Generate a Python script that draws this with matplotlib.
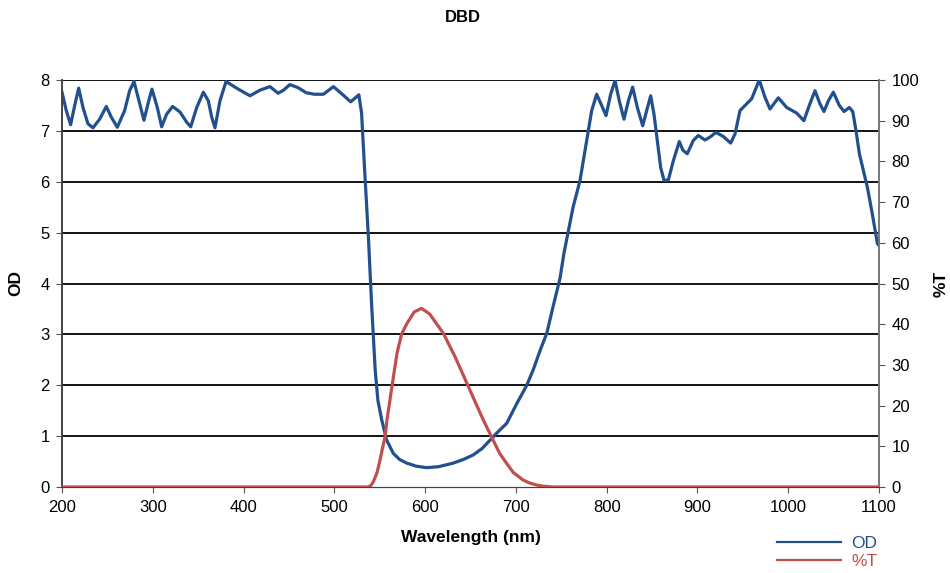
"""DBD filter: optical density and transmission vs wavelength."""
import matplotlib
matplotlib.use("Agg")
import matplotlib.pyplot as plt

plt.rcParams["font.family"] = ["Liberation Sans", "DejaVu Sans"]

# OD curve
od_wl = [200, 204.7, 209.5, 214, 218.4, 223.1, 228.6, 234.1, 241.5, 248.8, 254.3, 260.9,
         269, 274.5, 279.3, 285.6, 290.3, 295.5, 299.1, 305, 309.8, 315.3, 321.9, 330,
         337.4, 341.8, 348.4, 355.7, 361.2, 364.9, 368.5, 374, 380.7, 394.2, 407.1, 418.1,
         429.1, 438, 444, 451, 460, 469, 478, 488, 499, 510, 518, 527, 530, 534, 537.5,
         541, 545, 548, 552.2, 557.7, 565, 572, 579.7, 590, 601.7, 615, 631, 642, 653, 663,
         671.5, 680, 689.8, 701, 712, 719, 727, 734, 741, 748.6, 753, 758, 763, 770.6, 778,
         783.5, 789, 794.5, 799.3, 804.4, 809.2, 813.9, 819.1, 823.9, 828.6, 833.8, 839.7,
         844.1, 848.5, 852.1, 855.8, 859.5, 863.1, 867.9, 873.4, 880, 884, 888.8, 895.4,
         900.9, 908.3, 914, 920.4, 928.5, 936.6, 941.4, 946.9, 954.2, 959.7, 968.1, 974.4,
         979.9, 989.1, 998.3, 1009.3, 1017.3, 1023.2, 1029.5, 1035, 1039.4, 1044.2, 1049.7,
         1056.3, 1061.5, 1067.3, 1071.1, 1074.7, 1078.4, 1082.8, 1087.2, 1092, 1098.3, 1100]
od_val = [7.76, 7.40, 7.12, 7.50, 7.84, 7.46, 7.14, 7.06, 7.23, 7.48, 7.27, 7.07,
          7.40, 7.79, 7.97, 7.53, 7.21, 7.59, 7.82, 7.46, 7.08, 7.33, 7.48, 7.37,
          7.17, 7.08, 7.46, 7.76, 7.59, 7.27, 7.06, 7.59, 7.97, 7.82, 7.69, 7.80,
          7.87, 7.74, 7.8, 7.91, 7.85, 7.75, 7.72, 7.72, 7.87, 7.7, 7.57, 7.71, 7.35, 6.03, 4.92,
          3.61, 2.3, 1.7, 1.32, 0.92, 0.66, 0.54, 0.47, 0.41, 0.38, 0.40, 0.47, 0.54, 0.63, 0.76,
          0.92, 1.08, 1.25, 1.64, 2.0, 2.3, 2.7, 3.02, 3.55, 4.1, 4.6, 5.05, 5.5, 6.02, 6.81,
          7.40, 7.72, 7.5, 7.30, 7.72, 7.99, 7.59, 7.23, 7.59, 7.86, 7.46, 7.10,
          7.40, 7.69, 7.33, 6.81, 6.28, 6.03, 6.03, 6.41, 6.79, 6.62, 6.55, 6.81,
          6.91, 6.82, 6.88, 6.97, 6.89, 6.76, 6.94, 7.40, 7.53, 7.63, 8.0, 7.66,
          7.43, 7.65, 7.46, 7.35, 7.20, 7.5, 7.79, 7.53, 7.38, 7.59, 7.76,
          7.5, 7.38, 7.46, 7.38, 7.00, 6.55, 6.22, 5.89, 5.43, 4.78, 4.75]

# %T curve
t_wl = [200, 537, 540, 543, 547, 550.3, 553, 556, 558, 563, 569, 574, 580, 588, 596,
        605, 620, 633, 646, 656, 664, 675, 682, 689.8, 697, 708, 715, 722.7, 730, 740, 1100]
t_val = [0, 0, 0.3, 1.3, 3.5, 6.6, 9.5, 12.4, 16.5, 24, 32.8, 37.5, 40.2, 43, 43.9,
         42.5, 37.8, 32, 25.5, 20.5, 16.5, 11.5, 8.3, 5.8, 3.6, 1.7, 1.0, 0.5, 0.2, 0, 0]

x_ticks = list(range(200, 1101, 100))
od_ticks = list(range(0, 9))
t_ticks = list(range(0, 101, 10))

BLUE = "#22508f"
RED = "#c0504d"

fig = plt.figure(figsize=(9.5, 5.73), dpi=100)
ax = fig.add_axes([62 / 950, 1 - 487 / 573, (879 - 62) / 950, (487 - 80) / 573])

for v in od_ticks[1:]:
    ax.axhline(v, color="black", lw=1.3, zorder=1)

l1, = ax.plot(od_wl, od_val, color=BLUE, lw=2.3, zorder=3, label="OD",
              solid_joinstyle="round")
ax.set_xlim(200, 1100)
ax.set_ylim(0, 8)
ax.set_xticks(x_ticks)
ax.set_yticks(od_ticks)
ax.tick_params(labelsize=12, length=4, pad=5, color="#555555")
ax.set_xlabel("Wavelength (nm)", fontsize=12.5, fontweight="bold", labelpad=11)
ax.set_ylabel("OD", fontsize=12.5, fontweight="bold", labelpad=12)

ax2 = ax.twinx()
l2, = ax2.plot(t_wl, t_val, color=RED, lw=2.3, zorder=4, label="%T",
               solid_joinstyle="round")
ax2.set_ylim(0, 100)
ax2.set_yticks(t_ticks)
ax2.tick_params(labelsize=12, length=4, pad=5, color="#555555")
ax2.set_ylabel("%T", fontsize=12.5, fontweight="bold", labelpad=10)

for a in (ax, ax2):
    a.spines["top"].set_visible(False)
    a.spines["left"].set_color("#444444")
    a.spines["right"].set_color("#777777")
    a.spines["bottom"].set_color("#444444")
    a.spines["left"].set_linewidth(1.2)
    a.spines["right"].set_linewidth(1.2)

fig.text(463 / 950, 1 - 18 / 573, "DBD", ha="center", va="center",
         fontsize=12, fontweight="bold")

fig.legend(handles=[l1, l2], loc="upper left", bbox_to_anchor=(768 / 950, 1 - 527 / 573),
           frameon=False, fontsize=12.5, handlelength=3.7, handletextpad=0.6,
           labelspacing=0.15, labelcolor="linecolor", borderpad=0)
for h in fig.legends[0].get_lines():
    h.set_linewidth(1.6)

fig.savefig("out.png", dpi=100)
